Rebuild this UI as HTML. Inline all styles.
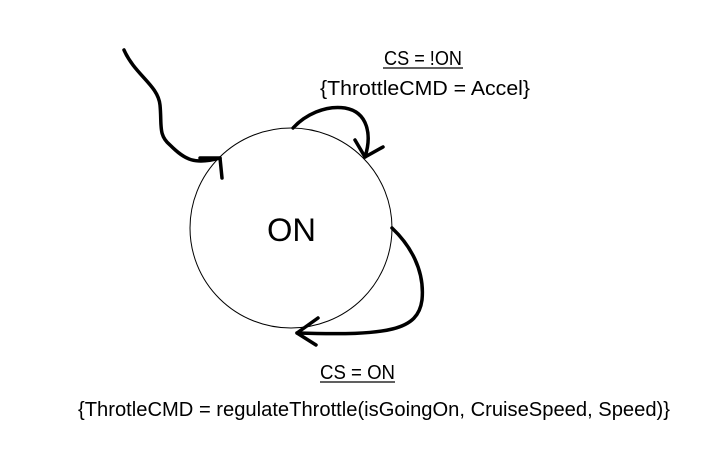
<!DOCTYPE html>
<html><head><style>body{margin:0;background:#fff}svg{display:block}</style></head>
<body>
<svg width="725" height="469" viewBox="0 0 725 469" xmlns="http://www.w3.org/2000/svg" font-family="'Liberation Sans', sans-serif">
<ellipse cx="291" cy="228" rx="101" ry="100" fill="#fff" stroke="#000" stroke-width="1"/>
<g fill="none" stroke="#000" stroke-width="3.5" stroke-linecap="round" stroke-linejoin="round">
<path d="M124,50 C135,75 158,85 160,105 C162,125 158,135 170,145 C185,160 195,165 220,158"/>
<path d="M200,158 L220,158 L222,178"/>
<path d="M293,128 C305,115 325,105 345,108 C368,112 372,135 365,157"/>
<path d="M355,140 L365,157 L383,147"/>
<path d="M392,228 C410,245 425,270 422,300 C418,330 390,336 297,333"/>
<path d="M318,318 L297,333 L316,345"/>
</g>
<g font-size="20" fill="#000">
<text x="384" y="65" textLength="78" lengthAdjust="spacingAndGlyphs">CS = !ON</text>
<line x1="383" y1="68" x2="463" y2="68" stroke="#000" stroke-width="1.2"/>
<text x="320" y="95" textLength="210" lengthAdjust="spacingAndGlyphs">{ThrottleCMD = Accel}</text>
<text x="267" y="241" font-size="32" textLength="49" lengthAdjust="spacingAndGlyphs">ON</text>
<text x="320" y="379" textLength="75" lengthAdjust="spacingAndGlyphs">CS = ON</text>
<line x1="320" y1="382" x2="395" y2="382" stroke="#000" stroke-width="1.2"/>
<text x="78" y="416" textLength="592" lengthAdjust="spacingAndGlyphs">{ThrotleCMD = regulateThrottle(isGoingOn, CruiseSpeed, Speed)}</text>
</g>
</svg>
</body></html>
